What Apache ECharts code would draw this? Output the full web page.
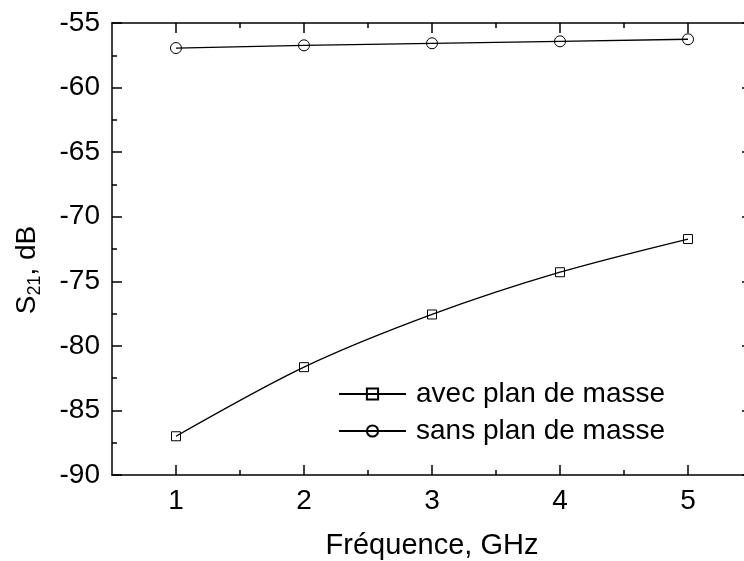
<!DOCTYPE html>
<html>
<head>
<meta charset="utf-8">
<script src="https://cdn.jsdelivr.net/npm/echarts@6/dist/echarts.min.js"></script>
<style>
  html, body { margin: 0; padding: 0; background: #fff; overflow: hidden; }
  #chart { width: 744px; height: 561px; }
</style>
</head>
<body>
<div id="chart"></div>
<script>
// data
var freq = [1, 2, 3, 4, 5];
var avecPlan = [-87.0, -81.65, -77.57, -74.3, -71.73];
var sansPlan = [-56.94, -56.73, -56.57, -56.42, -56.26];
var xMajor = [1, 2, 3, 4, 5];
var xMinor = [1.5, 2.5, 3.5, 4.5];
var seriesNames = ["avec plan de masse", "sans plan de masse"];

var font = "Liberation Sans, Arial, sans-serif";

function pairs(ys) {
  return freq.map(function (x, i) { return [x, ys[i]]; });
}

// one x axis, used 4 times (bottom/top, major/minor ticks)
function xAx(pos, ticks, len, main) {
  return {
    type: "value",
    position: pos,
    min: 0.5,
    max: 5.5,
    axisLine: { show: main, onZero: false, lineStyle: { color: "#000", width: 1.5 } },
    axisTick: { show: true, inside: true, length: len, customValues: ticks,
      lineStyle: { color: "#000", width: 1.5 } },
    axisLabel: { show: main && pos === "bottom", customValues: xMajor,
      color: "#000", fontSize: 28, fontFamily: font, margin: 12 },
    splitLine: { show: false }
  };
}

var chart = echarts.init(document.getElementById("chart"));
var option = {
  animation: false,
  backgroundColor: "#fff",
  // right frame of the plot is just outside the picture
  grid: { left: 112, top: 23, width: 640, height: 452, containLabel: false, outerBoundsMode: "none" },
  legend: {
    orient: "vertical",
    left: 338,
    top: 380,
    padding: 0,
    itemWidth: 67,
    itemHeight: 14,
    itemGap: 9,
    data: seriesNames,
    textStyle: { color: "#000", fontSize: 28, fontFamily: font, padding: [0, 0, 0, 5] }
  },
  xAxis: [
    Object.assign(xAx("bottom", xMajor, 10, true), {
      name: "Fréquence, GHz",
      nameLocation: "middle",
      nameGap: 56,
      nameTextStyle: { color: "#000", fontSize: 29, fontFamily: font }
    }),
    xAx("bottom", xMinor, 5, false),
    xAx("top", xMajor, 10, true),
    xAx("top", xMinor, 5, false)
  ],
  yAxis: [
    {
      type: "value",
      position: "left",
      min: -90,
      max: -55,
      interval: 5,
      axisLine: { show: true, onZero: false, lineStyle: { color: "#000", width: 1.5 } },
      axisTick: { inside: true, length: 10, lineStyle: { color: "#000", width: 1.5 } },
      minorTick: { show: true, splitNumber: 2, length: 5, lineStyle: { color: "#000", width: 1.5 } },
      axisLabel: { color: "#000", fontSize: 28, fontFamily: font, margin: 12 },
      splitLine: { show: false },
      name: "{s|S}{sub|21}{s|, dB}",
      nameLocation: "middle",
      nameGap: 68,
      nameTextStyle: {
        color: "#000",
        fontFamily: font,
        padding: [0, 42, 0, 0],
        rich: {
          s: { fontSize: 28, fontFamily: font, color: "#000", lineHeight: 34 },
          sub: { fontSize: 18, fontFamily: font, color: "#000", lineHeight: 14, verticalAlign: "bottom" }
        }
      }
    },
    {
      type: "value",
      position: "right",
      min: -90,
      max: -55,
      interval: 5,
      axisLine: { show: true, onZero: false, lineStyle: { color: "#000", width: 1.5 } },
      axisTick: { inside: true, length: 10, lineStyle: { color: "#000", width: 1.5 } },
      minorTick: { show: true, splitNumber: 2, length: 5, lineStyle: { color: "#000", width: 1.5 } },
      axisLabel: { show: false },
      splitLine: { show: false }
    }
  ],
  series: [
    {
      name: seriesNames[0],
      type: "line",
      smooth: 0.3,
      data: pairs(avecPlan),
      symbol: "rect",
      symbolSize: 9,
      lineStyle: { color: "#000", width: 1.3 },
      itemStyle: { color: "rgba(255,255,255,0)", borderColor: "#000", borderWidth: 1 }
    },
    {
      name: seriesNames[1],
      type: "line",
      data: pairs(sansPlan),
      symbol: "circle",
      symbolSize: 11,
      lineStyle: { color: "#000", width: 1.3 },
      itemStyle: { color: "rgba(255,255,255,0)", borderColor: "#000", borderWidth: 1 }
    }
  ]
};
chart.setOption(option);
</script>
</body>
</html>
